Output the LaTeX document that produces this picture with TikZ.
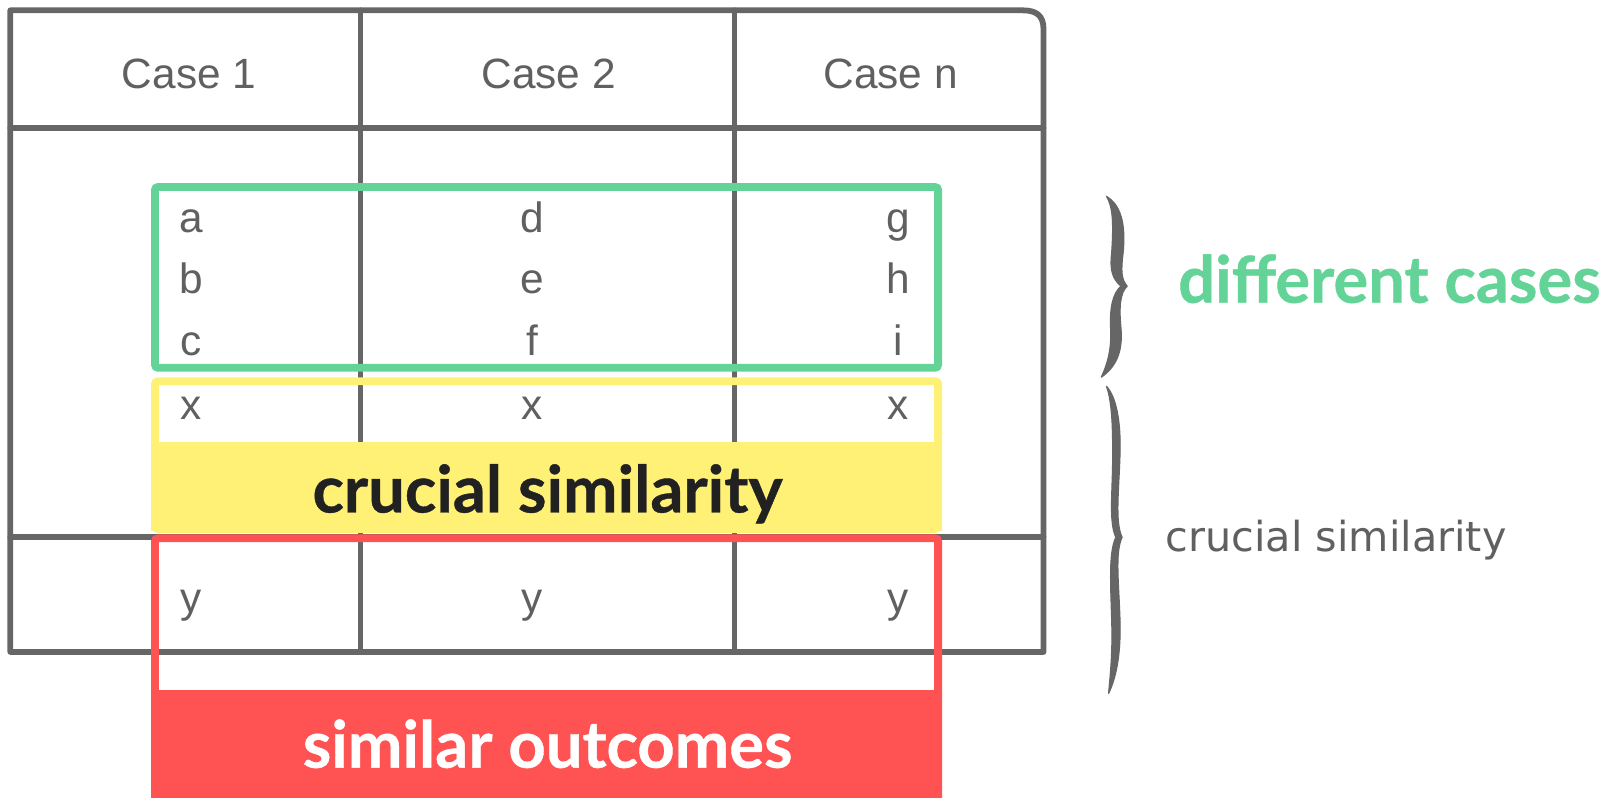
\documentclass[tikz,border=0pt]{standalone}
\usepackage{fontspec}
\setmainfont{Liberation Sans}
\newfontfamily\labelfont[BoldFeatures={FakeBold=0.6}]{Lato}
\newfontfamily\notefont{DejaVu Sans}

\definecolor{inkgray}{RGB}{102,102,102}
\definecolor{txtgray}{RGB}{96,96,96}
\definecolor{mintgreen}{RGB}{99,211,151}
\definecolor{sunyellow}{RGB}{255,240,118}
\definecolor{coralred}{RGB}{255,83,83}
\definecolor{darkink}{RGB}{33,33,33}

\begin{document}
\begin{tikzpicture}[x=0.5pt,y=-0.5pt,
  tableline/.style={draw=inkgray,line width=2.8pt,line cap=round,line join=round},
  cell/.style={font=\fontsize{20.5}{24}\selectfont,text=txtgray,inner sep=0pt,anchor=base},
  hilite/.style={line width=3.8pt,rounded corners=1.5pt},
  tag/.style={font=\labelfont\bfseries\fontsize{31.5}{36}\selectfont,inner sep=0pt,anchor=base},
  bracefill/.style={fill=inkgray,draw=inkgray,line width=0.6pt,line join=round}]

\useasboundingbox (0,0) rectangle (1568,772);
\fill[white] (0,0) rectangle (1568,772);

% --- the printed table ---
\draw[tableline] (10,631) -- (10,10) -- (990,10)
  .. controls (1003,10) and (1010,15) .. (1010,28) -- (1010,631) -- cycle;
\draw[tableline] (10,124) -- (1010,124);
\draw[tableline] (10,520) -- (1010,520);
\draw[tableline] (349,10) -- (349,631);
\draw[tableline] (711,10) -- (711,631);

% --- coloured highlights ---
\draw[hilite,draw=mintgreen] (150,181) rectangle (908,356);

\fill[sunyellow] (146,428) rectangle (912,514);
\draw[hilite,draw=sunyellow] (150,369) rectangle (908,512);

\fill[coralred] (146,668) rectangle (912,772);
\draw[hilite,draw=coralred] (150,780) -- (150,521) -- (908,521) -- (908,780);

% --- column headings ---
\node[cell] (h1) at (183,86) {Case 1};
\node[cell] (h2) at (531,86) {Case 2};
\node[cell] (h3) at (862,86) {Case n};

% --- cell entries ---
\node[cell] (ca) at (185,225) {a};
\node[cell] (cb) at (185,284) {b};
\node[cell] (cc) at (185,344) {c};
\node[cell] (cx1) at (185,406) {x};
\node[cell] (cy1) at (185,593) {y};

\node[cell] (cd) at (515,225) {d};
\node[cell] (ce) at (515,284) {e};
\node[cell] (cf) at (515,344) {f};
\node[cell] (cx2) at (515,406) {x};
\node[cell] (cy2) at (515,593) {y};

\node[cell] (cg) at (869,225) {g};
\node[cell] (chh) at (869,284) {h};
\node[cell] (ci) at (869,344) {i};
\node[cell] (cx3) at (869,406) {x};
\node[cell] (cy3) at (869,593) {y};

% --- highlight captions ---
\node[tag,text=darkink] (crucial) at (530,496) {crucial similarity};
\node[tag,text=white] (outcomes) at (530,743) {similar outcomes};
\node[tag,text=mintgreen,anchor=base west] (different) at (1140,293) {different cases};

% --- braces at the side ---
\fill[bracefill]
  (1071,190) .. controls (1084,198) and (1090,215) .. (1087,245)
  .. controls (1085,262) and (1085,270) .. (1091,277)
  .. controls (1084,283) and (1083,298) .. (1085,318)
  .. controls (1087,342) and (1079,356) .. (1066,365)
  .. controls (1072,352) and (1076,338) .. (1075,318)
  .. controls (1074,298) and (1077,284) .. (1085,277)
  .. controls (1077,270) and (1074,262) .. (1076,245)
  .. controls (1078,215) and (1077,200) .. (1071,190) -- cycle;

\fill[bracefill]
  (1071,374) .. controls (1081,385) and (1085,410) .. (1084,440)
  .. controls (1083,475) and (1079,505) .. (1086,520)
  .. controls (1079,535) and (1083,565) .. (1084,600)
  .. controls (1085,630) and (1081,655) .. (1073,671)
  .. controls (1075,650) and (1077,630) .. (1076,600)
  .. controls (1075,565) and (1073,535) .. (1080,520)
  .. controls (1073,505) and (1077,475) .. (1077,440)
  .. controls (1077,410) and (1076,388) .. (1071,374) -- cycle;

\node[font=\notefont\fontsize{20}{24}\selectfont,text=txtgray,inner sep=0pt,anchor=base west]
  (note) at (1128,534) {crucial similarity};

\end{tikzpicture}
\end{document}
